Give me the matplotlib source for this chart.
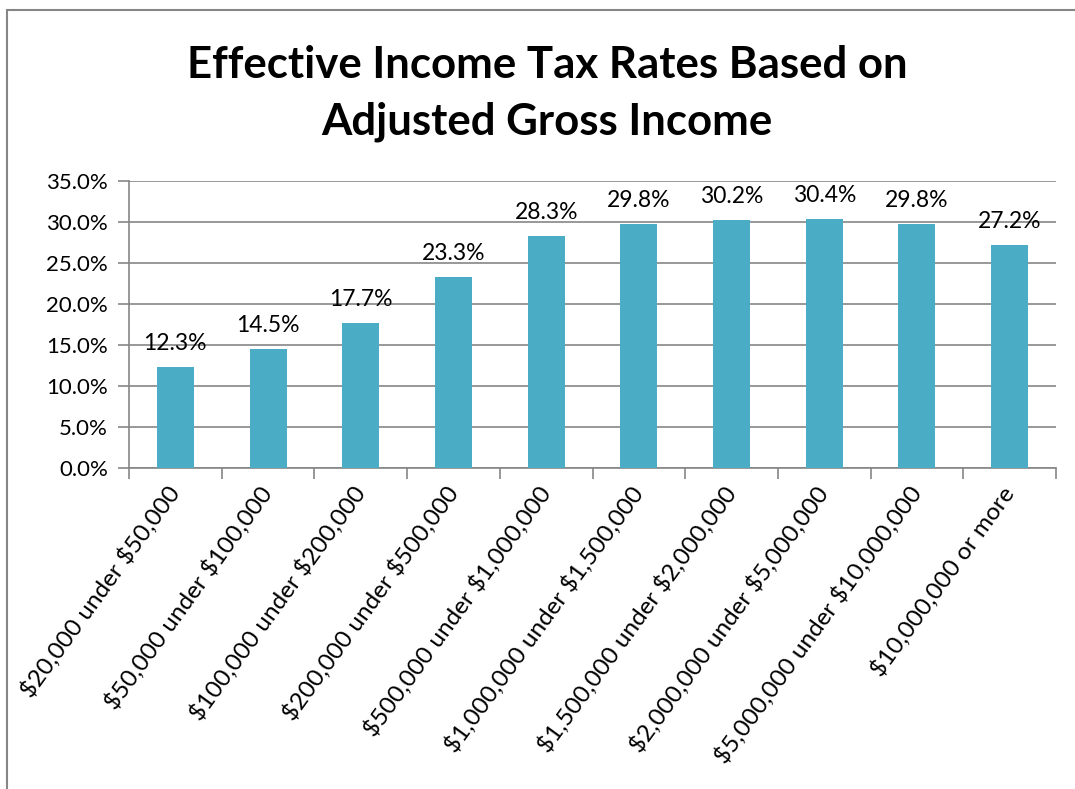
import matplotlib.pyplot as plt
from matplotlib.ticker import FuncFormatter, MultipleLocator
from matplotlib.patches import Rectangle

categories = ['$20,000 under $50,000', '$50,000 under $100,000', '$100,000 under $200,000',
              '$200,000 under $500,000', '$500,000 under $1,000,000', '$1,000,000 under $1,500,000',
              '$1,500,000 under $2,000,000', '$2,000,000 under $5,000,000',
              '$5,000,000 under $10,000,000', '$10,000,000 or more']
rates = [12.3, 14.5, 17.7, 23.3, 28.3, 29.8, 30.2, 30.4, 29.8, 27.2]

plt.rcParams['font.family'] = ['Lato', 'DejaVu Sans']
plt.rcParams['text.parse_math'] = False

fig = plt.figure(figsize=(10.75, 7.89), dpi=100)
# outer chart border
fig.patches.append(Rectangle((7 / 1075, -0.05), 1.1, 1 - 10 / 789 + 0.05, transform=fig.transFigure,
                             fill=False, edgecolor='#868686', linewidth=1.5))
ax = fig.add_axes([129 / 1075, 1 - 468 / 789, (1056 - 129) / 1075, (468 - 181) / 789])

x = list(range(len(categories)))
bars = ax.bar(x, rates, width=0.4, color='#4BACC6', zorder=3)
for xi, r in zip(x, rates):
    ax.text(xi, r + 1.6, f'{r:.1f}%', ha='center', va='bottom', fontsize=16.5, zorder=4)

ax.set_xlim(-0.5, len(categories) - 0.5)
ax.set_ylim(0, 35)
ax.yaxis.set_major_locator(MultipleLocator(5))
ax.yaxis.set_major_formatter(FuncFormatter(lambda v, p: f'{v:.1f}%'))
ax.grid(axis='y', color='#868686', linewidth=1.2, zorder=0)
ax.tick_params(axis='y', length=8, color='#868686', width=1.2, labelsize=16, pad=7)

ax.set_xticks([i - 0.5 for i in range(len(categories) + 1)])
ax.set_xticklabels([])
ax.set_xticks(x, minor=True)
ax.set_xticklabels(categories, minor=True, rotation=54, ha='right', va='center',
                   rotation_mode='anchor', fontsize=17.5)
ax.tick_params(axis='x', which='major', length=8, color='#868686', width=1.2)
ax.tick_params(axis='x', which='minor', length=0, pad=15)

for s in ['top', 'right']:
    ax.spines[s].set_visible(False)
for s in ['left', 'bottom']:
    ax.spines[s].set_color('#868686')
    ax.spines[s].set_linewidth(1.2)

fig.text(547 / 1075, 1 - 93 / 789, 'Effective Income Tax Rates Based on\nAdjusted Gross Income',
         ha='center', va='center', fontsize=31.5, fontweight='bold', linespacing=1.5)

fig.savefig('out.png', dpi=100)
